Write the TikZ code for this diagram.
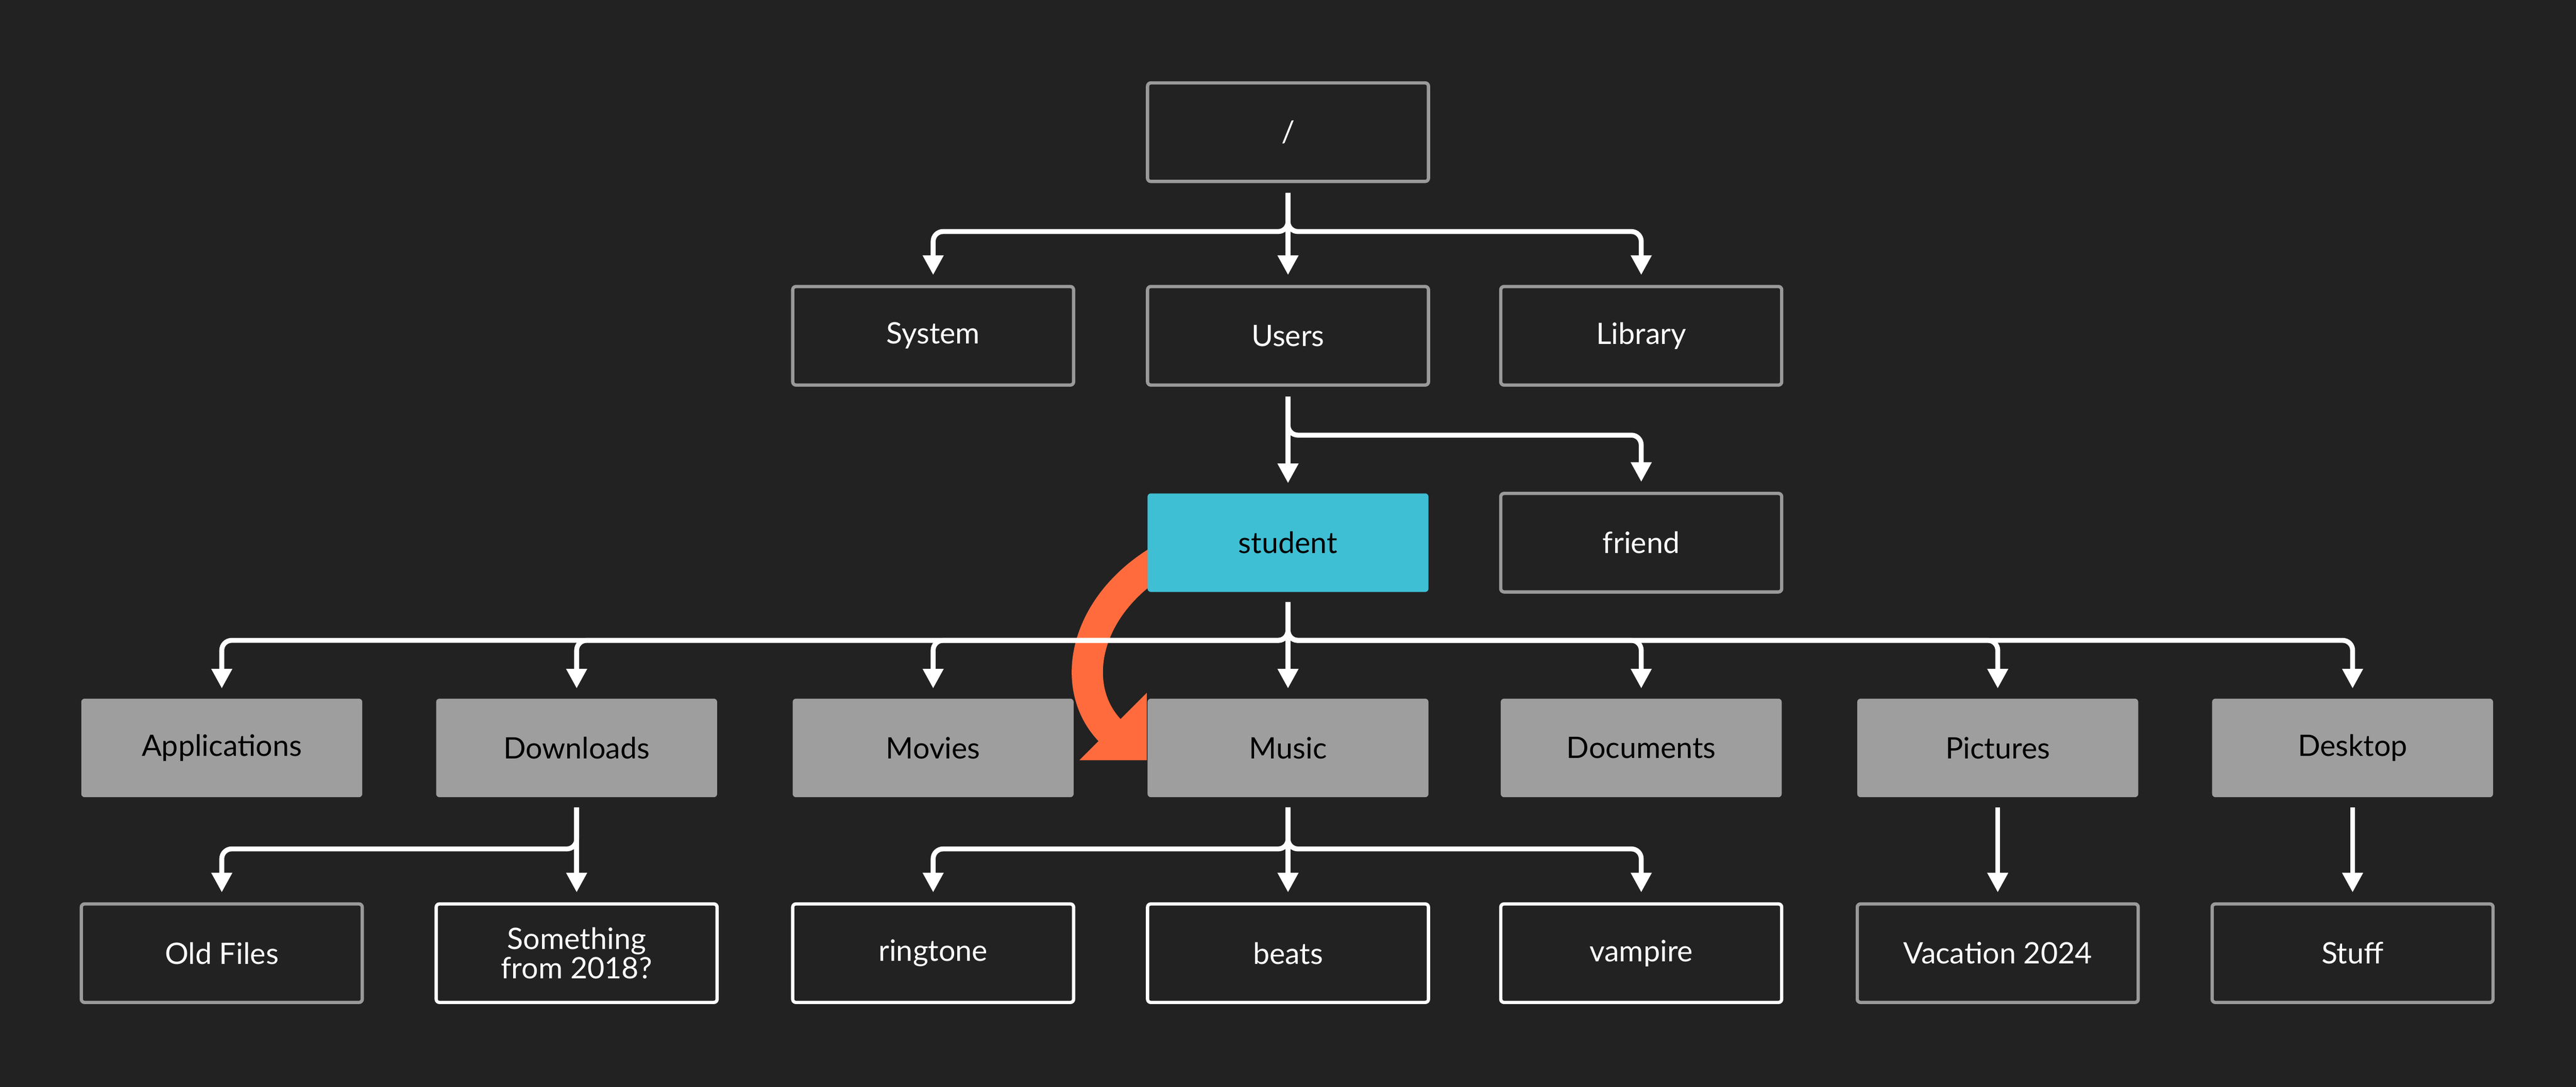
\documentclass[tikz,border=0pt]{standalone}
\usepackage{fontspec}
\setmainfont{Lato}
\usetikzlibrary{arrows.meta}
\definecolor{bg}{HTML}{222222}
\definecolor{boxgray}{HTML}{9E9E9E}
\definecolor{edgegray}{HTML}{9A9A9A}
\definecolor{cyanbox}{HTML}{3FBFD4}
\definecolor{orangearr}{HTML}{FF6B3D}
\tikzset{
  x=1pt,y=-1pt,
  base/.style={minimum width=171pt,minimum height=60pt,rounded corners=2pt,inner sep=0pt,align=center,font=\fontsize{18}{20}\selectfont},
  darkbox/.style={base,draw=edgegray,line width=2pt,text=white},
  whitebox/.style={base,draw=white,line width=2pt,text=white},
  graybox/.style={base,fill=boxgray,text=black},
  cyanfill/.style={base,fill=cyanbox,text=black},
  conn/.style={draw=white,line width=3pt,rounded corners=6pt,-{Triangle[length=12pt,width=12pt]}},
}
\begin{document}
\begin{tikzpicture}
\fill[bg] (0,0) rectangle (1568,662);
\useasboundingbox (0,0) rectangle (1568,662);
% orange arrow behind
\draw[orangearr,line width=19pt] (730,330) .. controls (660,355) and (645,420) .. (680,449);
\fill[orangearr] (698,422) -- (698,463) -- (657,463) -- cycle;
% nodes
\node[darkbox] (root) at (784,80.5) {/};
\node[darkbox] (system) at (568,204.5) {System};
\node[darkbox] (users) at (784,204.5) {Users};
\node[darkbox] (library) at (999,204.5) {Library};
\node[cyanfill] (student) at (784,330.5) {student};
\node[darkbox] (friend) at (999,330.5) {friend};
\node[graybox] (apps) at (135,455.5) {Applications};
\node[graybox] (down) at (351,455.5) {Downloads};
\node[graybox] (movies) at (568,455.5) {Movies};
\node[graybox] (music) at (784,455.5) {Music};
\node[graybox] (docs) at (999,455.5) {Documents};
\node[graybox] (pics) at (1216,455.5) {Pictures};
\node[graybox] (desk) at (1432,455.5) {Desktop};
\node[darkbox] (old) at (135,580.5) {Old Files};
\node[whitebox] (some) at (351,580.5) {Something\\[-2pt]from 2018?};
\node[whitebox] (ring) at (568,580.5) {ringtone};
\node[whitebox] (beats) at (784,580.5) {beats};
\node[whitebox] (vamp) at (999,580.5) {vampire};
\node[darkbox] (vac) at (1216,580.5) {Vacation 2024};
\node[darkbox] (stuff) at (1432,580.5) {Stuff};
% connectors
\foreach \p/\bus/\kids in {root/141/{system,users,library}, users/265/{student,friend}, student/390/{apps,down,movies,music,docs,pics,desk}, down/517/{old,some}, music/517/{ring,beats,vamp}, pics/517/{vac}, desk/517/{stuff}}{
  \foreach \k in \kids {
    \draw[conn] ([yshift=-6pt]\p.south) -- (\p.south |- 0,\bus) -- (\k.north |- 0,\bus) -- ([yshift=6pt]\k.north);
  }
}
\end{tikzpicture}
\end{document}
